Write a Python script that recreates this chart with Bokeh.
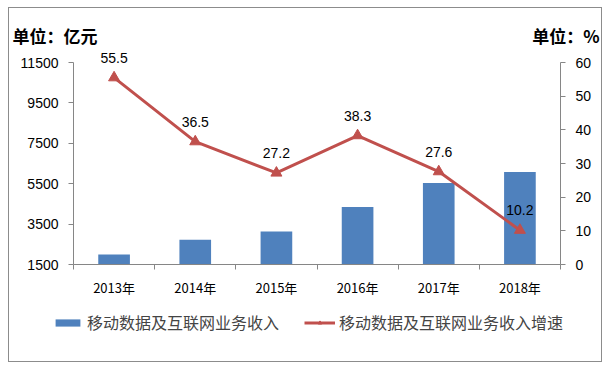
from bokeh.plotting import figure
from bokeh.models import (LinearAxis, Range1d, FixedTicker, Label, Legend,
                          LegendItem, ColumnDataSource)
from bokeh.embed import file_html
from bokeh.resources import INLINE

years = ["2013年", "2014年", "2015年", "2016年", "2017年", "2018年"]
revenue = [1990, 2730, 3130, 4350, 5540, 6080]
growth = [55.5, 36.5, 27.2, 38.3, 27.6, 10.2]
growth_labels = ["55.5", "36.5", "27.2", "38.3", "27.6", "10.2"]
left_ticks = [1500, 3500, 5500, 7500, 9500, 11500]
right_ticks = [0, 10, 20, 30, 40, 50, 60]
bar_name = "移动数据及互联网业务收入"
line_name = "移动数据及互联网业务收入增速"
left_unit = "单位：亿元"
right_unit = "单位：%"

BLUE = "#4F81BD"
RED = "#C0504D"
AXIS = "#868686"
NUM_FONT = "Liberation Sans"
CJK_FONT = "Noto Sans CJK SC"

# layout geometry (pixels on the canvas)
W, H = 594, 355
AX_L, AX_R = 64, 551        # left / right value axes
AX_B, AX_T = 256, 54        # bottom axis / top tick

n = len(years)
xs = [i + 0.5 for i in range(n)]
bottoms = [left_ticks[0]] * n
src = ColumnDataSource(dict(x=xs, rev=revenue, bottom=bottoms, g=growth, gl=growth_labels))

# ranges chosen so that the plotting frame fills the whole canvas
cat_px = (AX_R - AX_L) / n
x0 = -AX_L / cat_px
x1 = n + (W - AX_R) / cat_px
lspan = left_ticks[-1] - left_ticks[0]
rspan = right_ticks[-1] - right_ticks[0]
ppl = (AX_B - AX_T) / lspan
ppr = (AX_B - AX_T) / rspan
y0 = left_ticks[0] - (H - AX_B) / ppl
y1 = left_ticks[0] + AX_B / ppl
r0 = right_ticks[0] - (H - AX_B) / ppr
r1 = right_ticks[0] + AX_B / ppr

p = figure(width=W, height=H, output_backend="svg", toolbar_location=None,
           x_range=Range1d(x0, x1), y_range=Range1d(y0, y1),
           x_axis_type=None, y_axis_type=None, min_border=0)
p.outline_line_color = None
p.styles = {"border": "1px solid #8c8c8c", "margin-left": "8px", "margin-top": "7px"}
p.extra_y_ranges = {"pct": Range1d(r0, r1)}

xaxis = LinearAxis(ticker=FixedTicker(ticks=xs, minor_ticks=list(range(n + 1))),
                   major_label_overrides={x: y for x, y in zip(xs, years)},
                   fixed_location=left_ticks[0], bounds=(0, n))
xaxis.major_tick_out = 0
xaxis.major_tick_in = 0
xaxis.minor_tick_out = 5
xaxis.minor_tick_in = 0
xaxis.minor_tick_line_color = AXIS
xaxis.axis_line_color = AXIS
xaxis.major_label_standoff = 8
xaxis.major_label_text_font = CJK_FONT
xaxis.major_label_text_font_size = "13px"
xaxis.major_label_text_color = "black"
p.add_layout(xaxis, "below")

yaxis = LinearAxis(ticker=FixedTicker(ticks=left_ticks, minor_ticks=[]),
                   bounds=(left_ticks[0], left_ticks[-1]), fixed_location=0)
yaxis.major_tick_out = 5
yaxis.major_tick_in = 0
yaxis.major_tick_line_color = AXIS
yaxis.axis_line_color = AXIS
yaxis.major_label_standoff = 10
yaxis.major_label_text_font = NUM_FONT
yaxis.major_label_text_font_size = "14px"
yaxis.major_label_text_color = "black"
p.add_layout(yaxis, "left")

raxis = LinearAxis(y_range_name="pct", ticker=FixedTicker(ticks=right_ticks, minor_ticks=[]),
                   bounds=(right_ticks[0], right_ticks[-1]), fixed_location=n)
raxis.major_tick_out = 5
raxis.major_tick_in = 0
raxis.major_tick_line_color = AXIS
raxis.axis_line_color = AXIS
raxis.major_label_standoff = 10
raxis.major_label_text_font = NUM_FONT
raxis.major_label_text_font_size = "14px"
raxis.major_label_text_color = "black"
p.add_layout(raxis, "right")

bars = p.vbar(x="x", top="rev", bottom="bottom", width=0.39, source=src,
              fill_color=BLUE, line_color=None)
line = p.line(x="x", y="g", source=src, y_range_name="pct", line_color=RED, line_width=3)
marks = p.scatter(x="x", y="g", source=src, y_range_name="pct", marker="triangle",
                  size=11, fill_color=RED, line_color=RED)
p.text(x="x", y="g", text="gl", source=src, y_range_name="pct",
       text_font_size="14px", text_font={"value": NUM_FONT}, text_color="black",
       text_align="center", text_baseline="middle", y_offset=-20)

# unit labels
p.add_layout(Label(x=3, y=H - 14, x_units="screen", y_units="screen", text=left_unit,
                   text_font=CJK_FONT, text_font_size="17px", text_font_style="bold",
                   text_baseline="top", text_color="black"))
p.add_layout(Label(x=590, y=H - 14, x_units="screen", y_units="screen", text=right_unit,
                   text_font=CJK_FONT, text_font_size="17px", text_font_style="bold",
                   text_baseline="top", text_align="right", text_color="black"))

legend = Legend(items=[LegendItem(label=bar_name, renderers=[bars]),
                       LegendItem(label=line_name, renderers=[line, marks])],
                orientation="horizontal", location=(43, 29),
                label_text_font=CJK_FONT, label_text_font_size="16px",
                glyph_width=31, glyph_height=9, label_standoff=4, spacing=25,
                padding=0, margin=0, border_line_color=None, background_fill_alpha=0)
p.add_layout(legend, "center")

open("out.html", "w").write(file_html(p, INLINE))
